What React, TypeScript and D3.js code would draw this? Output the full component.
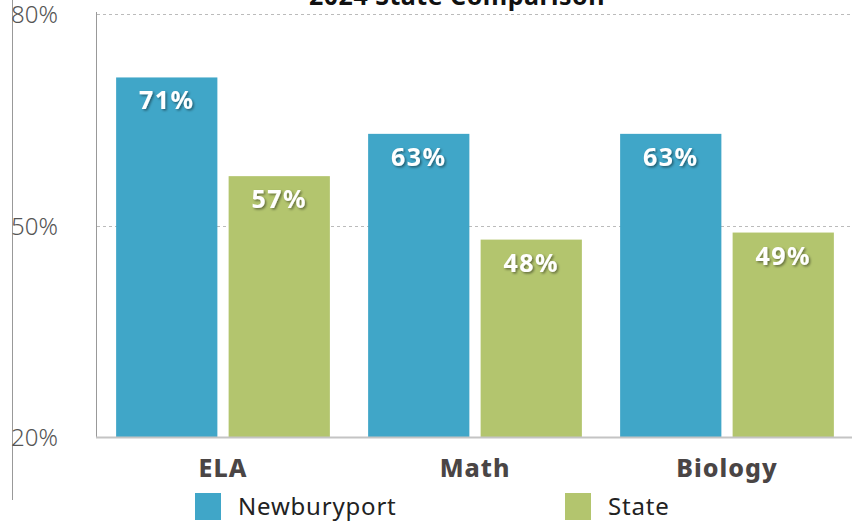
import React from "react";
import * as d3 from "d3";

const categories = ["ELA", "Math", "Biology"];
const seriesNames = ["Newburyport", "State"];
const newburyport = [71, 63, 63];
const state = [57, 48, 49];
const yTicks = [20, 50, 80];
const colors = ["#40A6C8", "#B3C56E"];

export default function App() {
  const W = 852, H = 521;
  const x0 = d3.scaleBand<string>().domain(categories).range([97, 853]).paddingInner(0).paddingOuter(0);
  const x1 = d3.scaleBand<string>().domain(seriesNames).range([0, x0.bandwidth()]).paddingInner(0.1).paddingOuter(0.17);
  const y = d3.scaleLinear().domain([20, 80]).range([437, 14]);
  const series = [newburyport, state];
  const font = "'Noto Sans', sans-serif";
  return (
    <svg width={W} height={H} style={{ position: "absolute", left: 0, top: 0 }} fontFamily={font}>
      <defs>
        <filter id="sh" x="-20%" y="-20%" width="140%" height="140%">
          <feDropShadow dx="1.5" dy="1.5" stdDeviation="1" floodColor="#000" floodOpacity="0.45" />
        </filter>
      </defs>
      <text x={457} y={5} textAnchor="middle" fontSize={25} fontWeight={700} fill="#111" letterSpacing={0.5}>2024 State Comparison</text>
      <line x1={12.5} x2={12.5} y1={0} y2={500} stroke="#999" strokeWidth={1} />
      <line x1={96.5} x2={96.5} y1={12} y2={437} stroke="#999" strokeWidth={1} />
      {yTicks.filter(t => t !== 20).map(t => (
        <line key={t} x1={97} x2={852} y1={Math.round(y(t)) + 0.5} y2={Math.round(y(t)) + 0.5} stroke="#bbb" strokeDasharray="3,3" />
      ))}
      {yTicks.map(t => (
        <text key={t} x={11} y={y(t) + 9} fontSize={24} fill="#555" fontWeight={300}>{t}%</text>
      ))}
      {categories.map((c, i) => (
        <g key={c} transform={`translate(${x0(c)},0)`}>
          {seriesNames.map((s, j) => {
            const v = series[j][i];
            const bx = x1(s)!;
            return (
              <g key={s}>
                <rect x={bx} y={y(v)} width={x1.bandwidth()} height={437 - y(v)} fill={colors[j]} />
                <text x={bx + x1.bandwidth() / 2} y={y(v) + 32} textAnchor="middle" fontSize={25} fontWeight={700} fill="#fff" letterSpacing={1.5} filter="url(#sh)">{v}%</text>
              </g>
            );
          })}
          <text x={x0.bandwidth() / 2} y={477} textAnchor="middle" fontSize={25} fontWeight={800} fill="#4a4545" letterSpacing={1}>{c}</text>
        </g>
      ))}
      <line x1={96} x2={852} y1={437.5} y2={437.5} stroke="#c4c4c4" strokeWidth={2} />
      {seriesNames.map((s, j) => {
        const lx = [195, 565][j];
        return (
          <g key={s}>
            <rect x={lx} y={493} width={26} height={27} fill={colors[j]} />
            <text x={lx + 43} y={515} fontSize={24} fill="#222" letterSpacing={0.8}>{s}</text>
          </g>
        );
      })}
    </svg>
  );
}
